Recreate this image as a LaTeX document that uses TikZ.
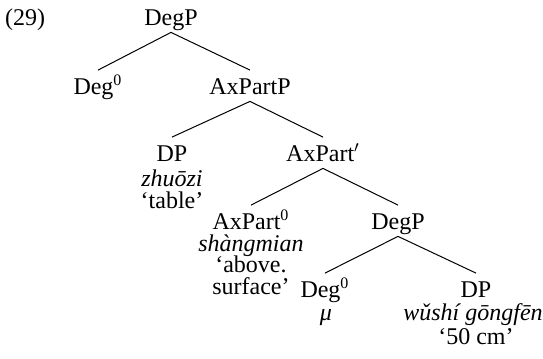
\documentclass[tikz,border=0pt]{standalone}
\usepackage{fontspec}
\setmainfont{Liberation Serif}
\begin{document}
\begin{tikzpicture}[x=0.5pt,y=-0.5pt,
  font=\fontsize{12}{14}\selectfont,
  cat/.style={anchor=base, inner sep=0pt, text height=11.75pt, text depth=3.5pt},
  gl/.style={anchor=base, inner sep=0pt},
  edge/.style={draw, line width=0.5pt}]
\useasboundingbox (0,0) rectangle (543,359);
\node[gl] (ex) at (25,25) {(29)};
\node[cat] (n1) at (171,25) {DegP};
\node[cat] (n2) at (98,94) {Deg\textsuperscript{0}};
\node[cat] (n3) at (250,94) {AxPartP};
\node[cat] (n4) at (172,161) {DP};
\node[gl] (n4a) at (172,186) {\itshape zhuōzi};
\node[gl] (n4b) at (172,208) {‘table’};
\node[cat] (n5) at (323,161) {AxPart$'$};
\node[cat] (n6) at (251,229) {AxPart\textsuperscript{0}};
\node[gl] (n6a) at (251,251) {\itshape shàngmian};
\node[gl] (n6b) at (251,272.5) {‘above.};
\node[gl] (n6c) at (251,294) {surface’};
\node[cat] (n7) at (398,229) {DegP};
\node[cat] (n8) at (325,297) {Deg\textsuperscript{0}};
\node[gl] (n8a) at (326,320) {\itshape μ};
\node[cat] (n9) at (476,297) {DP};
\node[gl] (n9a) at (473,320) {\itshape wǔshí gōngfēn};
\node[gl] (n9b) at (476,344) {‘50 cm’};
\draw[edge] (n1.south) -- (n2.north);
\draw[edge] (n1.south) -- (n3.north);
\draw[edge] (n3.south) -- (n4.north);
\draw[edge] (n3.south) -- (n5.north);
\draw[edge] (n5.south) -- (n6.north);
\draw[edge] (n5.south) -- (n7.north);
\draw[edge] (n7.south) -- (n8.north);
\draw[edge] (n7.south) -- (n9.north);
\end{tikzpicture}
\end{document}
